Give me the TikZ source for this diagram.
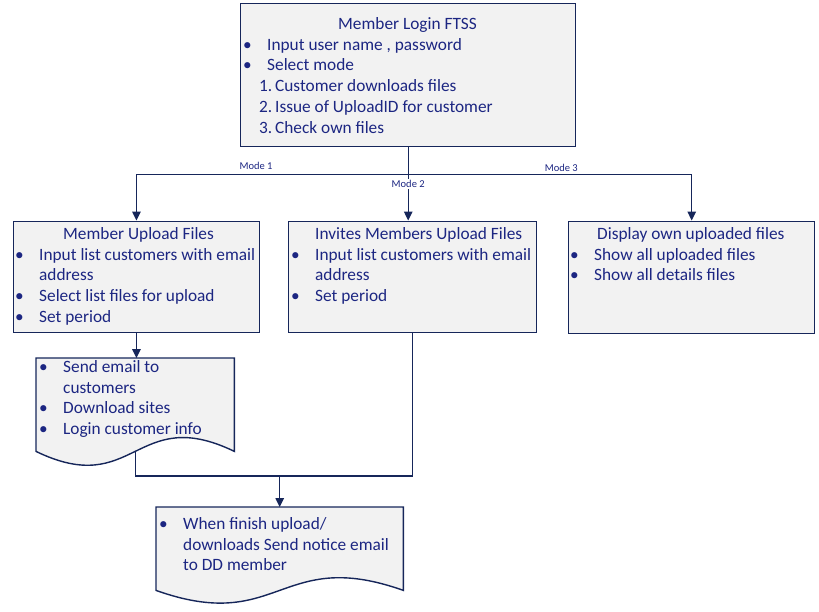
\documentclass[tikz,border=0pt]{standalone}
\usepackage{fontspec}
\setmainfont{Carlito}
\usetikzlibrary{arrows.meta,calc}

\definecolor{lineblue}{RGB}{22,38,90}
\definecolor{textblue}{RGB}{28,38,130}
\definecolor{boxgrey}{RGB}{242,242,242}

\newcommand{\bul}{\makebox[24pt][l]{\textbullet}}
\newcommand{\ind}{\hspace*{24pt}}
\newcommand{\docshape}[2]{\filldraw[wire, fill=boxgrey] (#1.north west) -- (#1.north east) -- (#1.south east)
 .. controls ($(#1.south)+(0,-#2)$) and ($(#1.south)+(0,#2)$) .. (#1.south west) -- cycle;}

\tikzset{
 wire/.style={draw=lineblue, line width=1.4pt},
 panel/.style={wire, fill=boxgrey, anchor=north west, inner sep=0},
 docbox/.style={anchor=north west, inner sep=0},
 txt/.style={text=textblue, font=\fontsize{17.3}{20.8}\selectfont, align=left, inner sep=0,
  anchor=north west, execute at begin node=\strut},
 modetxt/.style={text=textblue, font=\fontsize{10.5}{12}\selectfont, inner sep=1pt},
 link/.style={wire, -{Triangle[length=9pt,width=8.5pt]}}
}

\begin{document}
\begin{tikzpicture}[x=1pt,y=-1pt]
\useasboundingbox (0,0) rectangle (819,611);
\node[panel, minimum width=335, minimum height=143] (login) at (240,3) {};
\node[panel, minimum width=246.5, minimum height=111.5] (upload) at (12.5,220.5) {};
\node[panel, minimum width=247.5, minimum height=111.5] (invite) at (288,220.5) {};
\node[panel, minimum width=246, minimum height=112] (display) at (568,220.5) {};
\node[docbox, minimum width=198, minimum height=93] (mail) at (36,358) {};
\node[docbox, minimum width=247, minimum height=83] (notice) at (156,507) {};
\docshape{mail}{48}
\docshape{notice}{44}

\node[txt] (logintxt) at (243,17) {\hspace*{95pt}Member Login FTSS\\
\bul Input user name , password\\
\bul Select mode\\
\hspace*{16pt}\makebox[16pt][l]{1.}Customer downloads files\\
\hspace*{16pt}\makebox[16pt][l]{2.}Issue of UploadID for customer\\
\hspace*{16pt}\makebox[16pt][l]{3.}Check own files};
\node[txt] (uploadtxt) at (15,227) {\hspace*{48pt}Member Upload Files\\
\bul Input list customers with email\\
\ind address\\
\bul Select list files for upload\\
\bul Set period};
\node[txt] (invitetxt) at (291,227) {\ind Invites Members Upload Files\\
\bul Input list customers with email\\
\ind address\\
\bul Set period};
\node[txt] (displaytxt) at (570,227) {\hspace*{27pt}Display own uploaded files\\
\bul Show all uploaded files\\
\bul Show all details files};
\node[txt] (mailtxt) at (39,360) {\bul Send email to\\
\ind customers\\
\bul Download sites\\
\bul Login customer info};
\node[txt] (noticetxt) at (159,517) {\bul When finish upload/\\
\ind downloads Send notice email\\
\ind to DD member};

\coordinate (fork) at ($(login.south)+(0,27)$);
\coordinate (merge) at ($(notice.north)+(0,-31)$);
\draw[wire] (login.south) -- (fork);
\draw[link] (fork) -| node[modetxt, pos=0.28, above, yshift=3pt] {Mode 1} (upload.north);
\draw[link] (fork) -- node[modetxt, fill=white, pos=0.21] {Mode 2} (fork |- invite.north);
\draw[link] (fork) -| node[modetxt, pos=0.27, above, yshift=1pt] {Mode 3} (display.north);
\draw[link] (upload.south) -- (upload.south |- mail.north);
\draw[wire] (mail.south) |- (merge) -| (invite.south);
\draw[link] (merge) -- (notice.north);
\end{tikzpicture}
\end{document}
